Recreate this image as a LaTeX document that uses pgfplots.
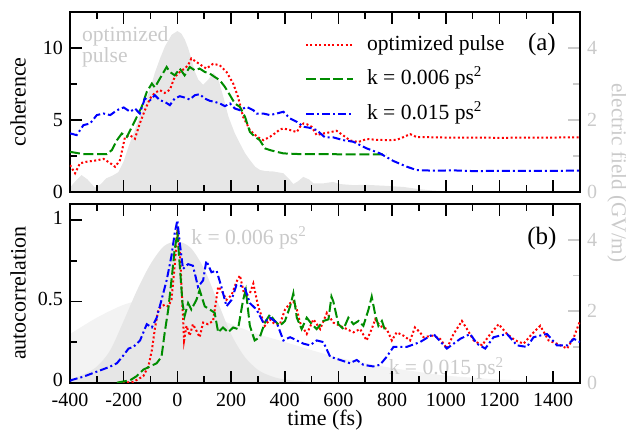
\documentclass[border=0pt]{standalone}
\usepackage{pgfplots}
\pgfplotsset{compat=1.18}
\usepackage{fontspec}
\setmainfont{Liberation Serif}
\definecolor{fieldgray}{HTML}{E6E6E6}
\definecolor{fieldlight}{HTML}{F3F3F3}
\definecolor{labgray}{HTML}{CACACA}
\definecolor{mygreen}{HTML}{008C00}
\pgfplotsset{
  base/.style={scale only axis, width=255pt, xmin=-400, xmax=1500,
    /pgf/number format/assume math mode=true, /pgf/number format/1000 sep={},
    tick label style={font=\fontsize{10}{12}\selectfont},
    major tick length=6pt, minor tick length=3.5pt, tick align=inside},
  fieldax/.style={base, axis x line=none, axis y line*=right, ymin=0, ymax=5,
    ytick={0,2,4}, minor ytick={1,3}, y axis line style={draw=none},
    tick style={labgray, line width=0.8pt}, yticklabel style={labgray}},
  mainax/.style={base, xtick={-400,-200,...,1400}, minor xtick={-300,-100,...,1500},
    xtick pos=both, ytick pos=left, axis line style={line width=1pt},
    tick style={black, line width=0.8pt},
    xticklabel style={yshift=-1.5pt},
    ylabel style={font=\fontsize{11}{13}\selectfont, at={(axis description cs:-0.102,0.5)}, anchor=center}},
  redl/.style={red, line width=1pt, dash pattern=on 1pt off 1.2pt},
  greenl/.style={mygreen, line width=1pt, dash pattern=on 5pt off 1.8pt},
  bluel/.style={blue, line width=1pt, dash pattern=on 4pt off 1.5pt on 1pt off 1.5pt},
}
\begin{document}
\begin{tikzpicture}
\useasboundingbox (-35pt,-24.2pt) rectangle (278pt,191.35pt);
% ---------------- bottom panel: fields ----------------
\begin{axis}[fieldax, at={(0,0)}, height=89.35pt]
\addplot[fill=fieldlight, draw=none, smooth] coordinates {
(-400,1.36) (-300,1.82) (-200,2.18) (-120,2.32) (-50,2.27) (0,2.18) (100,1.95)
(200,1.64) (300,1.36) (400,1.14) (500,0.91) (600,0.70) (700,0.55) (800,0.41)
(900,0.30) (1000,0.20) (1100,0.14) (1200,0.09) (1350,0.045) (1500,0.02)} \closedcycle;
\addplot[fill=fieldgray, draw=none, smooth] coordinates {
(-400,0.09) (-350,0.23) (-300,0.45) (-250,0.91) (-200,1.73) (-150,2.59) (-100,3.32)
(-50,3.82) (0,3.95) (50,3.77) (100,3.18) (150,2.27) (200,1.36) (250,0.73) (300,0.36)
(350,0.18) (400,0.09) (500,0.02) (600,0.0) (1500,0.0)} \closedcycle;
\node[anchor=base west, inner sep=0pt, labgray, font=\fontsize{10.8}{13}\selectfont] at (axis cs:50.7,3.864) {k = 0.006 ps\textsuperscript{2}};
\node[anchor=base west, inner sep=0pt, labgray, font=\fontsize{10.8}{13}\selectfont] at (axis cs:786,0.216) {k = 0.015 ps\textsuperscript{2}};
\end{axis}
% ---------------- bottom panel: autocorrelation ----------------
\begin{axis}[mainax, at={(0,0)}, height=89.35pt, ymin=0, ymax=1.1,
  ytick={0,0.5,1}, minor ytick={0.25,0.75},
  yticklabel style={yshift=1.2pt},
  xlabel={time (fs)}, ylabel={autocorrelation},
  xlabel style={font=\fontsize{11}{13}\selectfont, at={(axis description cs:0.5,0)}, anchor=center, yshift=-18.6pt}]
\addplot[redl] coordinates {
(-220,0.0) (-200,0.0) (-164,0.005) (-127,0.04) (-108,0.10) (-95,0.20) (-84,0.33) (-71,0.45)
(-59,0.47) (-47,0.48) (-34,0.47) (-22,0.51) (-10,0.72) (0,0.94) (9,0.82) (15,0.61) (25,0.26)
(34,0.35) (46,0.29) (58,0.36) (71,0.32) (83,0.28) (96,0.37) (114,0.36) (133,0.38) (152,0.59)
(164,0.57) (183,0.51) (202,0.54) (220,0.62) (233,0.66) (251,0.53) (270,0.55) (283,0.61)
(301,0.47) (326,0.35) (345,0.39) (363,0.36) (382,0.36) (401,0.45) (420,0.49) (432,0.50)
(445,0.45) (457,0.37) (482,0.30) (507,0.39) (532,0.33) (557,0.43) (581,0.37) (606,0.35)
(631,0.33) (656,0.31) (681,0.33) (705,0.26) (724,0.33) (737,0.39) (755,0.35) (780,0.33)
(799,0.26) (817,0.31) (842,0.29) (867,0.26) (885,0.34) (904,0.31) (917,0.28) (954,0.29)
(979,0.27) (1004,0.21) (1029,0.30) (1060,0.38) (1079,0.33) (1104,0.26) (1135,0.23)
(1166,0.30) (1197,0.36) (1228,0.30) (1259,0.26) (1290,0.24) (1321,0.30) (1352,0.35)
(1383,0.26) (1414,0.24) (1452,0.21) (1477,0.28) (1500,0.38)};
\addplot[greenl] coordinates {
(-225,0.0) (-176,0.015) (-152,0.04) (-127,0.08) (-102,0.10) (-77,0.12) (-59,0.16) (-47,0.31)
(-34,0.45) (-22,0.63) (-10,0.82) (0,0.92) (9,0.72) (19,0.49) (27,0.41) (40,0.49) (52,0.45)
(71,0.51) (83,0.57) (102,0.47) (121,0.45) (139,0.43) (152,0.31) (170,0.34) (189,0.31)
(208,0.34) (226,0.33) (245,0.51) (255,0.57) (270,0.35) (288,0.26) (307,0.28) (326,0.37)
(345,0.42) (363,0.38) (382,0.35) (401,0.38) (420,0.47) (432,0.55) (445,0.40) (463,0.33)
(482,0.40) (501,0.36) (519,0.33) (544,0.38) (563,0.39) (574,0.53) (581,0.50) (600,0.36)
(619,0.33) (637,0.40) (656,0.36) (675,0.38) (693,0.35) (712,0.45) (724,0.53) (737,0.42)
(749,0.35) (762,0.38) (774,0.32)};
\addplot[bluel] coordinates {
(-400,0.01) (-393,0.017) (-350,0.037) (-300,0.068) (-250,0.099) (-225,0.12) (-200,0.17)
(-182,0.21) (-164,0.22) (-139,0.26) (-114,0.36) (-95,0.34) (-77,0.40) (-59,0.51) (-40,0.63)
(-22,0.78) (-10,0.92) (0,1.0) (9,0.86) (21,0.70) (40,0.73) (58,0.72) (77,0.59) (96,0.63)
(108,0.75) (127,0.68) (146,0.69) (164,0.59) (183,0.47) (202,0.51) (220,0.60) (233,0.60)
(252,0.58) (270,0.49) (295,0.45) (320,0.37) (345,0.40) (370,0.37) (395,0.26) (420,0.28)
(445,0.26) (470,0.24) (494,0.23) (519,0.26) (544,0.25) (569,0.16) (606,0.14) (643,0.12)
(668,0.14) (693,0.11) (730,0.10) (755,0.11) (780,0.16) (805,0.22) (854,0.22) (904,0.25)
(954,0.30) (1004,0.21) (1054,0.27) (1091,0.30) (1116,0.24) (1147,0.21) (1178,0.28)
(1228,0.30) (1265,0.23) (1302,0.22) (1327,0.28) (1377,0.30) (1414,0.23) (1452,0.23)
(1477,0.27) (1500,0.25)};
\node[font=\fontsize{12.5}{14}\selectfont] at (axis cs:1358,0.887) {(b)};
\end{axis}
% ---------------- top panel: field ----------------
\begin{axis}[fieldax, at={(0,95.35pt)}, height=90pt]
\addplot[fill=fieldgray, draw=none] coordinates {
(-400,0.12) (-380,0.30) (-357,0.47) (-335,0.35) (-307,0.12) (-285,0.22) (-265,0.38)
(-240,0.46) (-220,0.55) (-200,0.85) (-180,1.3) (-158,1.73) (-140,2.1) (-121,2.47)
(-100,2.9) (-84,3.31) (-65,3.7) (-46,4.05) (-21,4.37) (0,4.47) (15,4.40) (28,4.23)
(40,4.0) (53,3.68) (65,3.35) (78,3.12) (96,2.98) (115,3.12) (134,3.31) (152,3.15)
(171,2.65) (190,2.1) (214,1.63) (233,1.35) (252,1.08) (270,0.89) (290,0.70) (308,0.61)
(330,0.58) (357,0.57) (395,0.52) (420,0.33) (432,0.22) (450,0.30) (469,0.42) (490,0.35)
(507,0.24) (544,0.24) (580,0.28) (606,0.22) (656,0.19) (700,0.2) (780,0.17) (842,0.14)
(900,0.08) (950,0.04) (1000,0.02) (1500,0.0)} \closedcycle;
\node[anchor=base west, inner sep=0pt, labgray, font=\fontsize{10.8}{13}\selectfont] at (axis cs:-356.6,4.187) {optimized};
\node[anchor=base west, inner sep=0pt, labgray, font=\fontsize{10.8}{13}\selectfont] at (axis cs:-356.6,3.60) {pulse};
\end{axis}
% ---------------- top panel: coherence ----------------
\begin{axis}[mainax, at={(0,95.35pt)}, height=90pt, ymin=0, ymax=12.5,
  ytick={0,5,10}, minor ytick={2.5,7.5}, xticklabels={}, ylabel={coherence},
  legend cell align=left,
  legend image code/.code={\draw[#1] (0pt,0pt) -- (23.5pt,0pt);},
  legend style={draw=none, fill=none, at={(axis description cs:0.4608,0.885)}, anchor=north west,
    inner sep=0pt, outer sep=0pt, row sep=4.6pt, font=\fontsize{10.8}{13}\selectfont,
    nodes={inner sep=1pt, text height=8pt, text depth=2.5pt},
    /tikz/every odd column/.style={column sep=5.5pt}}]
\addplot[redl] coordinates {
(-400,1.87) (-381,1.3) (-363,1.99) (-338,2.1) (-300,2.2) (-275,2.3) (-250,2.0) (-232,1.75)
(-214,2.2) (-195,3.83) (-176,3.93) (-158,3.7) (-140,4.76) (-121,5.68) (-102,6.49) (-84,6.88)
(-65,7.07) (-47,6.88) (-28,7.1) (-10,7.99) (9,8.34) (27,8.57) (40,8.8) (52,9.27) (71,9.03)
(89,8.8) (108,8.57) (133,8.9) (158,8.8) (183,8.34) (208,7.53) (226,6.6) (245,5.22) (258,4.76)
(270,4.3) (283,4.07) (300,3.8) (320,3.6) (345,3.83) (370,4.16) (382,4.34) (395,4.41) (420,4.3)
(445,4.16) (457,4.53) (470,4.76) (482,4.71) (500,4.53) (519,3.95) (540,4.05) (556,4.1)
(593,4.25) (618,3.93) (643,3.58) (674,3.47) (705,3.68) (743,3.62) (792,3.6) (817,3.62)
(842,3.81) (867,4.02) (892,3.81) (950,3.80) (1000,3.78) (1100,3.78) (1200,3.76) (1300,3.78)
(1400,3.78) (1500,3.80)};
\addlegendentry{optimized pulse}
\addplot[greenl] coordinates {
(-400,2.79) (-350,2.63) (-300,2.63) (-263,2.63) (-244,2.91) (-225,3.6) (-207,4.06) (-188,3.83)
(-170,4.5) (-151,5.22) (-133,5.91) (-114,6.95) (-95,7.53) (-84,7.26) (-65,7.88) (-40,8.68)
(-28,8.34) (-10,8.1) (9,8.57) (27,8.1) (46,8.68) (65,8.45) (83,8.57) (102,8.34) (121,8.22)
(139,7.99) (158,7.76) (177,7.3) (196,6.72) (214,6.15) (233,5.91) (252,5.22) (270,4.18)
(289,3.83) (307,3.6) (326,3.03) (345,2.91) (370,2.79) (395,2.68) (457,2.63) (500,2.63)
(600,2.62) (700,2.62) (780,2.61)};
\addlegendentry{k = 0.006 ps\textsuperscript{2}}
\addplot[bluel] coordinates {
(-400,4.07) (-375,3.95) (-350,4.64) (-325,4.76) (-300,5.34) (-275,5.45) (-250,5.34) (-225,5.68)
(-200,5.87) (-176,5.57) (-158,5.8) (-140,5.45) (-121,6.49) (-102,6.37) (-84,6.72) (-65,6.37)
(-47,6.26) (-28,6.03) (-10,6.49) (9,6.65) (27,6.56) (46,6.42) (65,6.72) (83,6.79) (102,6.49)
(121,6.33) (139,6.26) (158,6.15) (177,5.96) (196,6.15) (214,5.8) (233,5.68) (258,5.91)
(283,5.68) (295,5.45) (320,5.45) (345,5.34) (370,5.45) (395,5.57) (420,5.1) (445,4.87)
(470,4.53) (495,4.45) (519,4.3) (550,3.79) (581,3.79) (618,3.6) (655,3.49) (705,3.03)
(755,2.68) (805,2.15) (854,1.76) (892,1.52) (954,1.48) (1029,1.5) (1104,1.45) (1200,1.47)
(1300,1.47) (1400,1.47) (1500,1.48)};
\addlegendentry{k = 0.015 ps\textsuperscript{2}}
\node[font=\fontsize{12.5}{14}\selectfont] at (axis cs:1358,10.26) {(a)};
\end{axis}
\node[rotate=-90, labgray, font=\fontsize{10.6}{13}\selectfont] at (273.5pt,104.85pt) {electric field (GV/m)};
\end{tikzpicture}
\end{document}
